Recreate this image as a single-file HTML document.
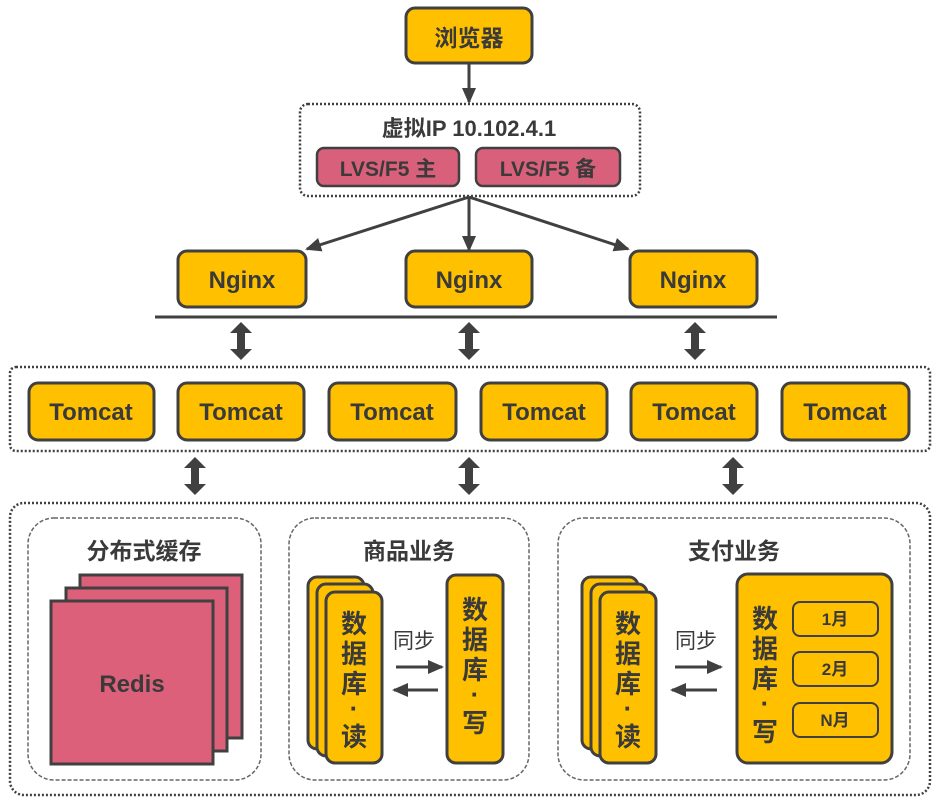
<!DOCTYPE html>
<html><head><meta charset="utf-8"><style>
html,body{margin:0;padding:0;background:#fff;}
svg{display:block;}
text{font-family:"Liberation Sans","Noto Sans CJK SC",sans-serif;font-weight:bold;fill:#3a3a3a;}
</style></head><body>
<svg width="942" height="805" viewBox="0 0 942 805" xmlns="http://www.w3.org/2000/svg">
<defs>
<marker id="ah" markerWidth="16" markerHeight="16" refX="14" refY="7" orient="auto" markerUnits="userSpaceOnUse" viewBox="0 0 16 14"><path d="M0,0 L16,7 L0,14 z" fill="#404040"/></marker>
<g id="dbl"><path d="M0,-19 L11,-8 L4,-8 L4,8 L11,8 L0,19 L-11,8 L-4,8 L-4,-8 L-11,-8 Z" fill="#404040"/></g>
</defs>
<g stroke="#404040" stroke-width="3" fill="#FFC000">
<rect x="406" y="8" width="126" height="55" rx="9"/>
<rect x="178" y="251" width="128" height="56" rx="9"/>
<rect x="406" y="251" width="126" height="56" rx="9"/>
<rect x="630" y="251" width="127" height="56" rx="9"/>
<rect x="29" y="383" width="125" height="57" rx="9"/>
<rect x="178" y="383" width="126" height="57" rx="9"/>
<rect x="329" y="383" width="127" height="57" rx="9"/>
<rect x="481" y="383" width="126" height="57" rx="9"/>
<rect x="631" y="383" width="126" height="57" rx="9"/>
<rect x="782" y="383" width="127" height="57" rx="9"/>
</g>
<text x="469" y="46" font-size="23" text-anchor="middle">浏览器</text>
<line x1="469" y1="63" x2="469" y2="102" stroke="#404040" stroke-width="3" marker-end="url(#ah)"/>
<rect x="300" y="104" width="340" height="92" rx="8" fill="none" stroke="#404040" stroke-width="2.5" stroke-dasharray="2 2"/>
<text x="469" y="136" font-size="22" text-anchor="middle">虚拟IP 10.102.4.1</text>
<rect x="317" y="148" width="142" height="38" rx="7" fill="#D9607A" stroke="#404040" stroke-width="2.5"/>
<rect x="476" y="148" width="144" height="38" rx="7" fill="#D9607A" stroke="#404040" stroke-width="2.5"/>
<text x="388" y="176" font-size="21" text-anchor="middle">LVS/F5 主</text>
<text x="548" y="176" font-size="21" text-anchor="middle">LVS/F5 备</text>
<g stroke="#404040" stroke-width="3" marker-end="url(#ah)">
<line x1="469" y1="197" x2="469" y2="250"/>
<line x1="469" y1="197" x2="307" y2="249"/>
<line x1="469" y1="197" x2="628" y2="249"/>
</g>
<text x="242" y="288" font-size="24" text-anchor="middle">Nginx</text>
<text x="469" y="288" font-size="24" text-anchor="middle">Nginx</text>
<text x="693" y="288" font-size="24" text-anchor="middle">Nginx</text>
<line x1="155" y1="317" x2="777" y2="317" stroke="#404040" stroke-width="3"/>
<use href="#dbl" x="241" y="341"/><use href="#dbl" x="469" y="341"/><use href="#dbl" x="695" y="341"/>
<rect x="10" y="367" width="920" height="84" rx="6" fill="none" stroke="#404040" stroke-width="2.5" stroke-dasharray="2 2"/>
<g font-size="24" text-anchor="middle">
<text x="91" y="420">Tomcat</text><text x="241" y="420">Tomcat</text><text x="392" y="420">Tomcat</text>
<text x="544" y="420">Tomcat</text><text x="694" y="420">Tomcat</text><text x="845" y="420">Tomcat</text>
</g>
<use href="#dbl" x="195" y="476"/><use href="#dbl" x="469" y="476"/><use href="#dbl" x="733" y="476"/>
<rect x="10" y="503" width="920" height="292" rx="14" fill="none" stroke="#404040" stroke-width="2.5" stroke-dasharray="2 2"/>
<g fill="none" stroke="#666" stroke-width="1.5" stroke-dasharray="4 2">
<rect x="28" y="518" width="233" height="262" rx="26"/>
<rect x="289" y="518" width="240" height="262" rx="26"/>
<rect x="558" y="518" width="352" height="262" rx="26"/>
</g>
<text x="144" y="559" font-size="23" text-anchor="middle">分布式缓存</text>
<text x="409" y="559" font-size="23" text-anchor="middle">商品业务</text>
<text x="734" y="559" font-size="23" text-anchor="middle">支付业务</text>
<g fill="#DC6079" stroke="#404040" stroke-width="3">
<rect x="80" y="575" width="162" height="163"/>
<rect x="66" y="588" width="161" height="163"/>
<rect x="51" y="601" width="162" height="163"/>
</g>
<text x="132" y="692" font-size="24" text-anchor="middle">Redis</text>
<g fill="#FFC000" stroke="#404040" stroke-width="3">
<rect x="308" y="577" width="56" height="172" rx="9"/>
<rect x="317" y="584" width="56" height="172" rx="9"/>
<rect x="326" y="592" width="56" height="171" rx="9"/>
<rect x="447" y="575" width="56" height="188" rx="9"/>
<rect x="582" y="577" width="56" height="172" rx="9"/>
<rect x="591" y="584" width="56" height="172" rx="9"/>
<rect x="600" y="592" width="56" height="171" rx="9"/>
<rect x="737" y="574" width="155" height="189" rx="11"/>
</g>
<g fill="none" stroke="#404040" stroke-width="2">
<rect x="793" y="602" width="85" height="34" rx="7"/>
<rect x="793" y="652" width="85" height="34" rx="7"/>
<rect x="793" y="703" width="85" height="34" rx="7"/>
</g>
<g font-size="17" text-anchor="middle"><text x="835" y="625">1月</text><text x="835" y="675">2月</text><text x="835" y="726">N月</text></g>
<g font-size="26" text-anchor="middle">
<text x="354" y="633">数</text><text x="354" y="663">据</text><text x="354" y="693">库</text><text x="354" y="717">·</text><text x="354" y="746">读</text>
<text x="475" y="619">数</text><text x="475" y="649">据</text><text x="475" y="679">库</text><text x="475" y="703">·</text><text x="475" y="732">写</text>
<text x="628" y="633">数</text><text x="628" y="663">据</text><text x="628" y="693">库</text><text x="628" y="717">·</text><text x="628" y="746">读</text>
<text x="765" y="628">数</text><text x="765" y="658">据</text><text x="765" y="688">库</text><text x="765" y="712">·</text><text x="765" y="741">写</text>
</g>
<text x="414" y="648" font-size="21" text-anchor="middle" style="font-weight:normal">同步</text>
<text x="696" y="648" font-size="21" text-anchor="middle" style="font-weight:normal">同步</text>
<g stroke="#404040" stroke-width="3" marker-end="url(#ah)">
<line x1="396" y1="667" x2="442" y2="667"/><line x1="438" y1="690" x2="394" y2="690"/>
<line x1="675" y1="667" x2="721" y2="667"/><line x1="717" y1="690" x2="672" y2="690"/>
</g>
</svg>
</body></html>
